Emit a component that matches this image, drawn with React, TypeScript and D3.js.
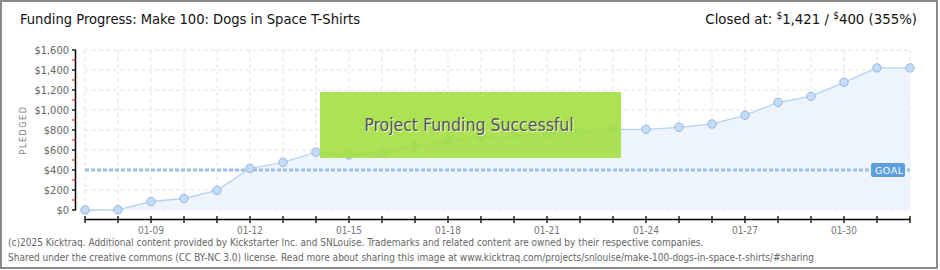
import React from "react";
import * as d3 from "d3";

const dates = ["01-07","01-08","01-09","01-10","01-11","01-12","01-13","01-14","01-15","01-16","01-17","01-18","01-19","01-20","01-21","01-22","01-23","01-24","01-25","01-26","01-27","01-28","01-29","01-30","01-31","02-01"];
const pledged = [0,2,85,115,197,417,477,578,550,580,640,690,733,740,767,783,807,807,827,860,947,1077,1137,1277,1421,1421];
const yTicks = [0,200,400,600,800,1000,1200,1400,1600];
const yMinor = [100,300,500,700,900,1100,1300,1500];
const labelEvery = 3;
const goal = 400;
const title = "Funding Progress: Make 100: Dogs in Space T-Shirts";
const footer1 = "(c)2025 Kicktraq. Additional content provided by Kickstarter Inc. and SNLouise. Trademarks and related content are owned by their respective companies.";
const footer2 = "Shared under the creative commons (CC BY-NC 3.0) license. Read more about sharing this image at www.kicktraq.com/projects/snlouise/make-100-dogs-in-space-t-shirts/#sharing";

const FONT = "'DejaVu Sans Condensed', 'Liberation Sans Narrow', 'DejaVu Sans', sans-serif";

export default function App() {
  const W = 940, H = 270;
  const x = d3.scaleLinear().domain([0, dates.length - 1]).range([85, 910]);
  const y = d3.scaleLinear().domain([0, 1600]).range([210, 50]);
  const idx = dates.map((_, i) => i);
  const line = d3.line<number>().x((i) => x(i)).y((i) => y(pledged[i]));
  const area = d3.area<number>().x((i) => x(i)).y0(y(0)).y1((i) => y(pledged[i]));
  const fmt = (v: number) => "$" + d3.format(",")(v);

  return (
    <svg width={W} height={H} style={{ position: "absolute", left: 0, top: 0, background: "#fff" }} fontFamily={FONT}>
      <rect x={1} y={1} width={936} height={267} fill="#fff" stroke="#8a8a8a" strokeWidth={2} />
      <text x={20} y={24} fontSize={14.6} fill="#111">{title}</text>
      <text x={917} y={24} fontSize={14.8} fill="#111" textAnchor="end">
        Closed at:{"  "}<tspan fontSize={10} dy={-5}>$</tspan><tspan dy={5}>1,421 /  </tspan>
        <tspan fontSize={10} dy={-5}>$</tspan><tspan dy={5}>400 (355%)</tspan>
      </text>

      {/* grid */}
      {yTicks.map((t) => (
        <line key={"gy" + t} x1={85} x2={910} y1={y(t)} y2={y(t)} stroke="#e2e2e2" strokeDasharray="4,3" />
      ))}
      {idx.map((i) => (
        <line key={"gx" + i} x1={x(i)} x2={x(i)} y1={50} y2={210} stroke="#e2e2e2" strokeDasharray="4,3" />
      ))}

      {/* area and line */}
      <path d={area(idx) || ""} fill="#edf4fd" />
      <path d={line(idx) || ""} fill="none" stroke="#b5d2f2" strokeWidth={1.3} />

      {/* goal line */}
      <line x1={85} x2={910} y1={y(goal)} y2={y(goal)} stroke="#9fc0e8" strokeWidth={3} strokeDasharray="4,2" />

      {/* points */}
      {idx.map((i) => (
        <circle key={"p" + i} cx={x(i)} cy={y(pledged[i])} r={4.2} fill="#c3dcf7" stroke="#97b6dc" strokeWidth={1} />
      ))}

      {/* goal label */}
      <rect x={871} y={163} width={34} height={14} rx={2} fill="#5c9ee0" />
      <text x={875} y={174} fontSize={9.5} fill="#fff" fontFamily="'DejaVu Sans', sans-serif" letterSpacing={0.5}>GOAL</text>

      {/* success box */}
      <rect x={320} y={92} width={301} height={66} fill="#a2de3c" opacity={0.88} />
      <text x={469} y={131} fontSize={17.5} fill="#fff" textAnchor="middle" opacity={0.8} dx={1} dy={1}>Project Funding Successful</text>
      <text x={469} y={131} fontSize={17.5} fill="#555" textAnchor="middle">Project Funding Successful</text>

      {/* y axis */}
      <line x1={75.5} x2={75.5} y1={50} y2={210} stroke="#000" strokeWidth={1.5} />
      {yTicks.map((t) => (
        <g key={"yt" + t}>
          <line x1={72} x2={76} y1={y(t)} y2={y(t)} stroke="#000" strokeWidth={1.3} />
          <text x={69} y={y(t) + 4} fontSize={11} fill="#666" textAnchor="end">{fmt(t)}</text>
        </g>
      ))}
      {yMinor.map((t) => (
        <line key={"ym" + t} x1={72} x2={76} y1={y(t)} y2={y(t)} stroke="#e00" strokeWidth={1} />
      ))}
      <text transform="translate(26,130) rotate(-90)" fontSize={9} fill="#777" textAnchor="middle" letterSpacing={1.5}>PLEDGED</text>

      {/* x axis */}
      <line x1={85} x2={910} y1={219.5} y2={219.5} stroke="#000" strokeWidth={1.5} />
      {idx.map((i) => (
        <line key={"xt" + i} x1={x(i)} x2={x(i)} y1={216} y2={223} stroke="#000" strokeWidth={1.3} />
      ))}
      {idx.filter((i) => i % labelEvery === 2).map((i) => (
        <text key={"xl" + i} x={x(i)} y={234} fontSize={10} fill="#777" textAnchor="middle">{dates[i]}</text>
      ))}

      <text x={8} y={246} fontSize={10} fill="#666">{footer1}</text>
      <text x={8} y={261} fontSize={10} fill="#666">{footer2}</text>
    </svg>
  );
}
